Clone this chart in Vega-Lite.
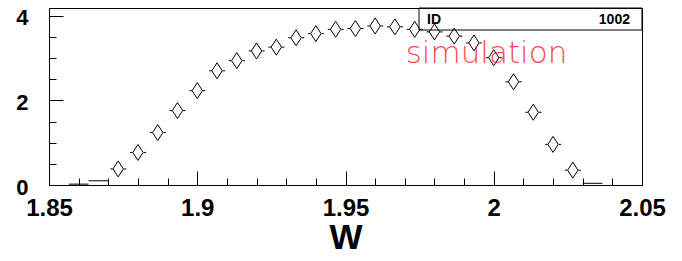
{
  "$schema": "https://vega.github.io/schema/vega-lite/v6.json",
  "width": 593,
  "height": 177,
  "autosize": {"type": "none"},
  "padding": {"left": 49, "top": 8, "right": 40, "bottom": 76},
  "background": "white",
  "config": {
    "view": {"stroke": "black", "strokeWidth": 1},
    "font": "Liberation Sans",
    "axis": {"labelOverlap": false, "labelFlush": false, "grid": false, "tickColor": "black", "domainColor": "black"}
  },
  "resolve": {"axis": {"x": "independent", "y": "independent"}},
  "datasets": {
    "hist": [
      {"lo": 1.856667, "hi": 1.863333, "w": 1.86, "n": 0.02, "m": false},
      {"lo": 1.863333, "hi": 1.87, "w": 1.866667, "n": 0.10, "m": false},
      {"lo": 1.87, "hi": 1.876667, "w": 1.873333, "n": 0.38, "m": true},
      {"lo": 1.876667, "hi": 1.883333, "w": 1.88, "n": 0.77, "m": true},
      {"lo": 1.883333, "hi": 1.89, "w": 1.886667, "n": 1.24, "m": true},
      {"lo": 1.89, "hi": 1.896667, "w": 1.893333, "n": 1.76, "m": true},
      {"lo": 1.896667, "hi": 1.903333, "w": 1.9, "n": 2.23, "m": true},
      {"lo": 1.903333, "hi": 1.91, "w": 1.906667, "n": 2.70, "m": true},
      {"lo": 1.91, "hi": 1.916667, "w": 1.913333, "n": 2.94, "m": true},
      {"lo": 1.916667, "hi": 1.923333, "w": 1.92, "n": 3.17, "m": true},
      {"lo": 1.923333, "hi": 1.93, "w": 1.926667, "n": 3.26, "m": true},
      {"lo": 1.93, "hi": 1.936667, "w": 1.933333, "n": 3.48, "m": true},
      {"lo": 1.936667, "hi": 1.943333, "w": 1.94, "n": 3.58, "m": true},
      {"lo": 1.943333, "hi": 1.95, "w": 1.946667, "n": 3.68, "m": true},
      {"lo": 1.95, "hi": 1.956667, "w": 1.953333, "n": 3.70, "m": true},
      {"lo": 1.956667, "hi": 1.963333, "w": 1.96, "n": 3.76, "m": true},
      {"lo": 1.963333, "hi": 1.97, "w": 1.966667, "n": 3.74, "m": true},
      {"lo": 1.97, "hi": 1.976667, "w": 1.973333, "n": 3.68, "m": true},
      {"lo": 1.976667, "hi": 1.983333, "w": 1.98, "n": 3.62, "m": true},
      {"lo": 1.983333, "hi": 1.99, "w": 1.986667, "n": 3.52, "m": true},
      {"lo": 1.99, "hi": 1.996667, "w": 1.993333, "n": 3.36, "m": true},
      {"lo": 1.996667, "hi": 2.003333, "w": 2.0, "n": 3.01, "m": true},
      {"lo": 2.003333, "hi": 2.01, "w": 2.006667, "n": 2.44, "m": true},
      {"lo": 2.01, "hi": 2.016667, "w": 2.013333, "n": 1.72, "m": true},
      {"lo": 2.016667, "hi": 2.023333, "w": 2.02, "n": 0.96, "m": true},
      {"lo": 2.023333, "hi": 2.03, "w": 2.026667, "n": 0.35, "m": true},
      {"lo": 2.03, "hi": 2.036667, "w": 2.033333, "n": 0.04, "m": false}
    ],
    "box": [
      {"lo": 1.97479, "hi": 2.05, "n": 3.664, "n2": 4.185}
    ],
    "texts": [
      {"w": 1.9775, "n": 3.90, "t": "ID", "k": "id"},
      {"w": 2.04595, "n": 3.90, "t": "1002", "k": "val"},
      {"w": 1.9703, "n": 2.892, "t": "simulation", "k": "sim"}
    ]
  },
  "layer": [
    {
      "data": {"name": "hist"},
      "transform": [{"filter": "datum.m"}],
      "mark": {"type": "rule", "color": "black", "strokeWidth": 1, "strokeDash": [0, 2, 2.5, 11, 2.5, 2]},
      "encoding": {
        "x": {
          "field": "lo", "type": "quantitative",
          "scale": {"domain": [1.85, 2.05], "nice": false, "zero": false},
          "axis": {
            "orient": "bottom",
            "values": [1.85, 1.9, 1.95, 2, 2.05],
            "format": "~g",
            "tickSize": -14,
            "labelFont": "Liberation Sans",
            "labelFontWeight": "bold",
            "labelFontSize": 24,
            "labelColor": "black",
            "labelPadding": 25,
            "title": "W",
            "titleFont": "Liberation Sans",
            "titleFontSize": 35,
            "titleFontWeight": "bold",
            "titleColor": "black",
            "titlePadding": 0
          }
        },
        "x2": {"field": "hi"},
        "y": {
          "field": "n", "type": "quantitative",
          "scale": {"domain": [0, 4.185], "nice": false, "zero": true},
          "axis": {
            "orient": "left",
            "values": [0, 2, 4],
            "format": "~g",
            "tickSize": -14,
            "labelFont": "Liberation Sans",
            "labelFontWeight": "bold",
            "labelFontSize": 22,
            "labelColor": "black",
            "labelPadding": 35,
            "labelOffset": 2,
            "title": null
          }
        }
      }
    },
    {
      "data": {"name": "hist"},
      "transform": [{"filter": "!datum.m"}],
      "mark": {"type": "rule", "color": "black", "strokeWidth": 1},
      "encoding": {
        "x": {
          "field": "lo", "type": "quantitative",
          "axis": {
            "orient": "bottom",
            "values": [1.86, 1.87, 1.88, 1.89, 1.91, 1.92, 1.93, 1.94, 1.96, 1.97, 1.98, 1.99, 2.01, 2.02, 2.03, 2.04],
            "tickSize": -7,
            "labels": false,
            "title": null
          }
        },
        "x2": {"field": "hi"},
        "y": {
          "field": "n", "type": "quantitative",
          "axis": {
            "orient": "left",
            "values": [0.5, 1, 1.5, 2.5, 3, 3.5],
            "tickSize": -7,
            "labels": false,
            "title": null
          }
        }
      }
    },
    {
      "data": {"name": "hist"},
      "transform": [{"filter": "datum.m"}],
      "mark": {"type": "point", "shape": "M0,-1L0.65,0L0,1L-0.65,0Z", "size": 256, "filled": false, "stroke": "black", "strokeWidth": 1, "opacity": 1},
      "encoding": {
        "x": {"field": "w", "type": "quantitative", "axis": null},
        "y": {"field": "n", "type": "quantitative", "axis": null}
      }
    },
    {
      "data": {"name": "box"},
      "mark": {"type": "rect", "fill": null, "fillOpacity": 0, "stroke": "black", "strokeWidth": 1},
      "encoding": {
        "x": {"field": "lo", "type": "quantitative", "axis": null},
        "x2": {"field": "hi"},
        "y": {"field": "n", "type": "quantitative", "axis": null},
        "y2": {"field": "n2"}
      }
    },
    {
      "data": {"name": "texts"},
      "transform": [{"filter": "datum.k === 'id'"}],
      "mark": {"type": "text", "align": "left", "baseline": "middle", "font": "Liberation Sans", "fontWeight": "bold", "fontSize": 14, "color": "black"},
      "encoding": {
        "x": {"field": "w", "type": "quantitative", "axis": null},
        "y": {"field": "n", "type": "quantitative", "axis": null},
        "text": {"field": "t"}
      }
    },
    {
      "data": {"name": "texts"},
      "transform": [{"filter": "datum.k === 'val'"}],
      "mark": {"type": "text", "align": "right", "baseline": "middle", "font": "Liberation Sans", "fontWeight": "bold", "fontSize": 14, "color": "black"},
      "encoding": {
        "x": {"field": "w", "type": "quantitative", "axis": null},
        "y": {"field": "n", "type": "quantitative", "axis": null},
        "text": {"field": "t"}
      }
    },
    {
      "data": {"name": "texts"},
      "transform": [{"filter": "datum.k === 'sim'"}],
      "mark": {"type": "text", "align": "left", "baseline": "alphabetic", "font": "DejaVu Sans", "fontWeight": 300, "fontSize": 31, "color": "#ff1a1a", "opacity": 0.8},
      "encoding": {
        "x": {"field": "w", "type": "quantitative", "axis": null},
        "y": {"field": "n", "type": "quantitative", "axis": null},
        "text": {"field": "t"}
      }
    }
  ]
}
